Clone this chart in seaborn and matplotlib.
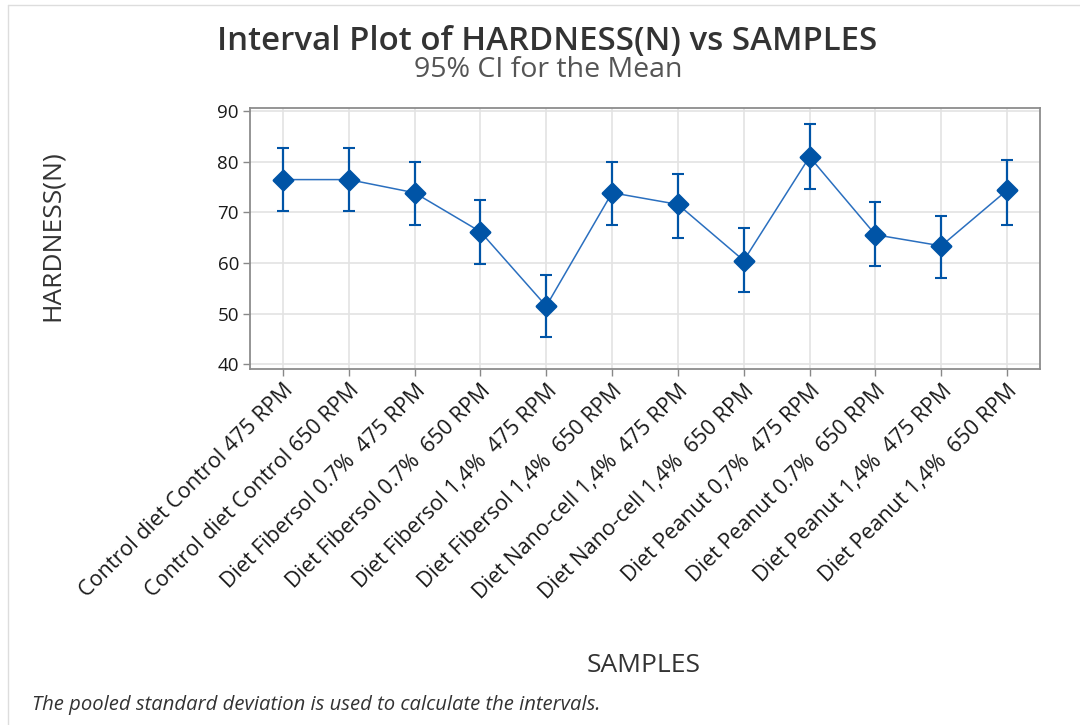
import matplotlib
matplotlib.use("Agg")
import matplotlib.pyplot as plt
import seaborn as sns
import pandas as pd
from matplotlib.lines import Line2D

samples = [
    "Control diet Control 475 RPM",
    "Control diet Control 650 RPM",
    "Diet Fibersol 0.7%  475 RPM",
    "Diet Fibersol 0.7%  650 RPM",
    "Diet Fibersol 1,4%  475 RPM",
    "Diet Fibersol 1,4%  650 RPM",
    "Diet Nano-cell 1,4%  475 RPM",
    "Diet Nano-cell 1,4%  650 RPM",
    "Diet Peanut 0,7%  475 RPM",
    "Diet Peanut 0.7%  650 RPM",
    "Diet Peanut 1,4%  475 RPM",
    "Diet Peanut 1,4%  650 RPM",
]
means = [76.5, 76.5, 73.9, 66.2, 51.5, 73.9, 71.6, 60.5, 81.0, 65.6, 63.4, 74.4]
lower = [70.2, 70.2, 67.6, 59.8, 45.3, 67.6, 65.0, 54.2, 74.6, 59.4, 57.1, 67.6]
upper = [82.8, 82.8, 79.9, 72.5, 57.6, 80.0, 77.7, 66.9, 87.4, 72.1, 69.4, 80.3]
yticks = [40, 50, 60, 70, 80, 90]

sns.set_theme(style="whitegrid")
plt.rcParams["font.family"] = ["Open Sans", "DejaVu Sans"]

df = pd.DataFrame({"SAMPLES": samples, "HARDNESS(N)": means})

fig = plt.figure(figsize=(10.8, 7.25), dpi=100)
ax = fig.add_axes([250 / 1080, 1 - 369 / 725, 790 / 1080, 261 / 725])

blue = "#0054a6"
line_blue = "#2a6fbf"

sns.lineplot(data=df, x="SAMPLES", y="HARDNESS(N)", ax=ax, color=line_blue,
             linewidth=1.1, sort=False, zorder=2)
x = list(range(len(samples)))
ax.errorbar(x, means,
            yerr=[[m - l for m, l in zip(means, lower)], [u - m for m, u in zip(means, upper)]],
            fmt="none", ecolor=blue, elinewidth=1.6, capsize=4, capthick=1.5, zorder=3)
sns.scatterplot(data=df, x="SAMPLES", y="HARDNESS(N)", ax=ax, marker="D", s=95,
                color=blue, edgecolor=blue, linewidth=2, zorder=4)

ax.set_xlim(-0.5, len(samples) - 0.5)
ax.set_ylim(39.07, 90.65)
ax.set_yticks(yticks)
ax.set_xticks(x)
ax.set_xticklabels(samples, rotation=45, ha="right", rotation_mode="anchor",
                   fontsize=15.5, color="#1a1a1a")
ax.tick_params(axis="y", labelsize=13.5, labelcolor="#1a1a1a")
ax.tick_params(axis="both", which="major", length=5, width=1, color="#888888",
               bottom=True, left=True, direction="out", pad=3)
ax.grid(True, color="#e3e3e3", linewidth=1.2)
for s in ax.spines.values():
    s.set_color("#8c8c8c")
    s.set_linewidth(1.3)
ax.set_facecolor("white")
ax.set_xlabel("")
ax.set_ylabel("")

fig.text(547 / 1080, 1 - 41 / 725, "Interval Plot of HARDNESS(N) vs SAMPLES",
         ha="center", va="center", fontsize=23.8, fontweight="semibold", color="#333333")
fig.text(548 / 1080, 1 - 70 / 725, "95% CI for the Mean",
         ha="center", va="center", fontsize=20.5, fontweight="medium", color="#555555")
fig.text(52 / 1080, 1 - 236 / 725, "HARDNESS(N)", rotation=90,
         ha="center", va="center", fontsize=19, color="#333333")
fig.text(644 / 1080, 1 - 666 / 725, "SAMPLES",
         ha="center", va="center", fontsize=19, color="#333333")
fig.text(32 / 1080, 1 - 705 / 725,
         "The pooled standard deviation is used to calculate the intervals.",
         ha="left", va="center", fontsize=14.6, style="italic", color="#333333")

fig.add_artist(Line2D([8 / 1080, 8 / 1080], [0, 1 - 5 / 725], transform=fig.transFigure,
                      color="#dddddd", linewidth=1))
fig.add_artist(Line2D([8 / 1080, 1], [1 - 5 / 725, 1 - 5 / 725], transform=fig.transFigure,
                      color="#dddddd", linewidth=1))

fig.savefig("out.png", dpi=100)
